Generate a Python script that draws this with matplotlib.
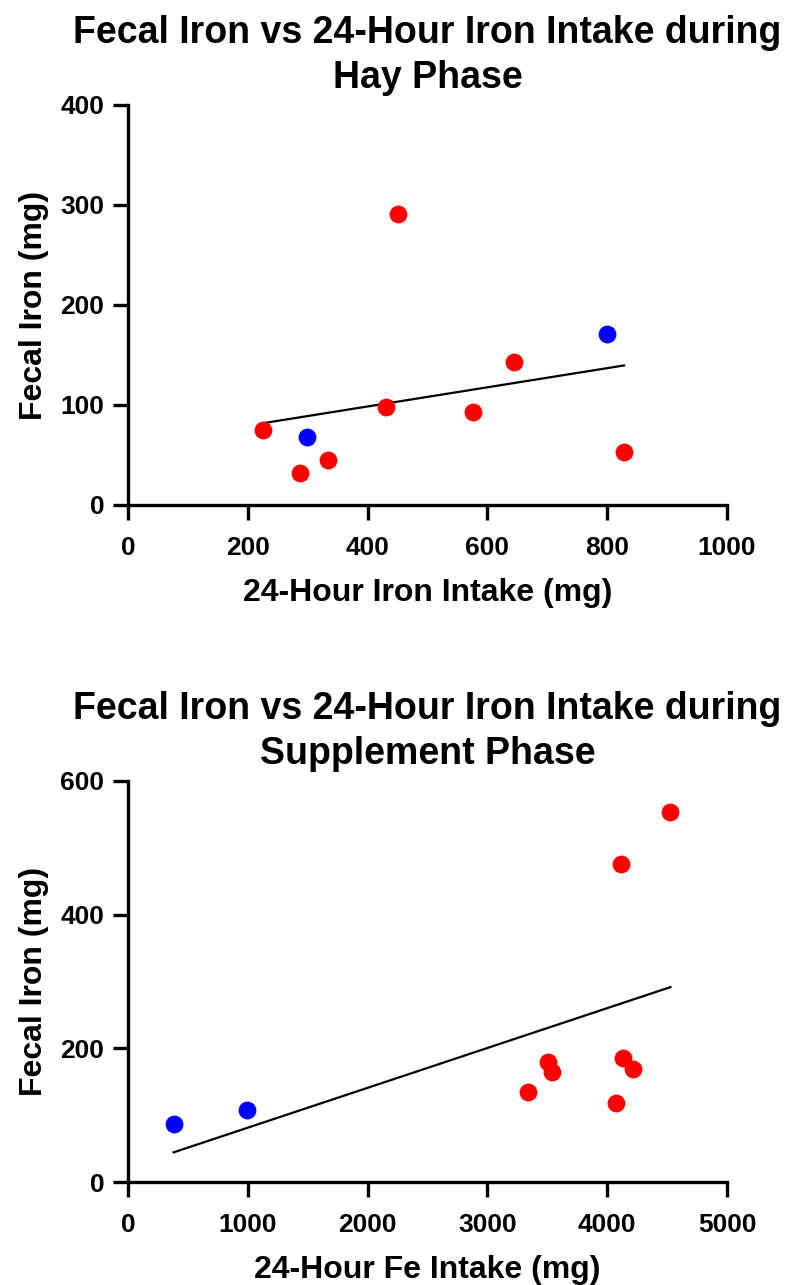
import numpy as np
import matplotlib
matplotlib.use("Agg")
import matplotlib.pyplot as plt

plt.rcParams['font.family'] = ['Liberation Sans', 'DejaVu Sans']
plt.rcParams['font.weight'] = 'bold'

# Hay phase
hay_intake = [225, 287, 334, 430, 451, 576, 644, 828]
hay_fecal = [75, 32, 45, 98, 291, 93, 143, 53]
hay_intake_blue = [298, 800]
hay_fecal_blue = [68, 171]

# Supplement phase
sup_intake = [3343, 3503, 3539, 4073, 4113, 4128, 4212, 4528]
sup_fecal = [134, 180, 164, 118, 476, 185, 169, 553]
sup_intake_blue = [381, 996]
sup_fecal_blue = [87, 107]

fig = plt.figure(figsize=(7.86, 12.85), dpi=100)
ax1 = fig.add_axes([128/786, 1 - 505/1285, 599/786, 400/1285])
ax2 = fig.add_axes([128/786, 1 - 1182/1285, 599/786, 401/1285])


def draw(ax, xr, yr, xb, yb, xmax, ymax, xstep, ystep, title, xlabel):
    ax.scatter(xr, yr, s=165, color='#ff0000', zorder=3, linewidths=0, clip_on=False)
    ax.scatter(xb, yb, s=165, color='#0000ff', zorder=3, linewidths=0, clip_on=False)
    # linear fit over all points
    x_all = np.array(xr + xb, dtype=float)
    y_all = np.array(yr + yb, dtype=float)
    k, b = np.polyfit(x_all, y_all, 1)
    xx = np.array([x_all.min(), x_all.max()])
    ax.plot(xx, k * xx + b, color='black', lw=1.6, zorder=2)

    ax.set_xlim(0, xmax)
    ax.set_ylim(0, ymax)
    ax.set_xticks(np.arange(0, xmax + 1, xstep))
    ax.set_yticks(np.arange(0, ymax + 1, ystep))
    for s in ['top', 'right']:
        ax.spines[s].set_visible(False)
    for s in ['left', 'bottom']:
        ax.spines[s].set_linewidth(2.4)
    ax.tick_params(width=2.4, length=11, labelsize=19)
    ax.tick_params(axis='x', pad=11)
    ax.tick_params(axis='y', pad=6)
    ax.set_xlabel(xlabel, fontsize=23, fontweight='bold', labelpad=13)
    ax.set_ylabel('Fecal Iron (mg)', fontsize=23, fontweight='bold', labelpad=8)
    ax.set_title(title, fontsize=27, fontweight='bold', pad=12, linespacing=1.35)


draw(ax1, hay_intake, hay_fecal, hay_intake_blue, hay_fecal_blue,
     1000, 400, 200, 100,
     'Fecal Iron vs 24-Hour Iron Intake during\nHay Phase',
     '24-Hour Iron Intake (mg)')
draw(ax2, sup_intake, sup_fecal, sup_intake_blue, sup_fecal_blue,
     5000, 600, 1000, 200,
     'Fecal Iron vs 24-Hour Iron Intake during\nSupplement Phase',
     '24-Hour Fe Intake (mg)')

fig.savefig('out.png', dpi=100)
